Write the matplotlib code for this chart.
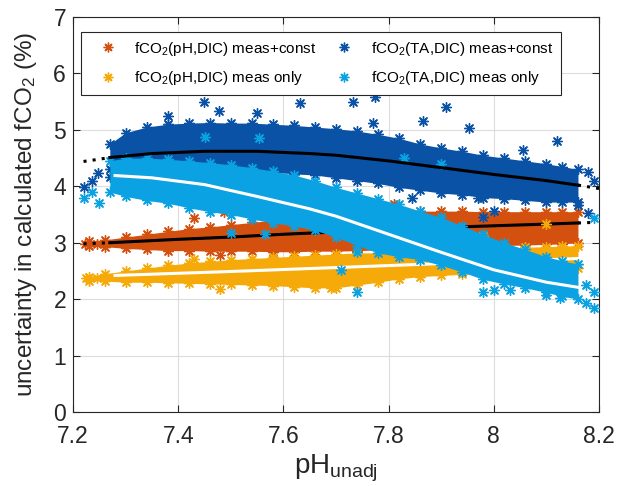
import matplotlib
matplotlib.use("Agg")
import matplotlib.pyplot as plt
from matplotlib.lines import Line2D

plt.rcParams['font.family'] = ['Liberation Sans', 'DejaVu Sans']
plt.rcParams['mathtext.fontset'] = 'custom'
plt.rcParams['mathtext.rm'] = 'Liberation Sans'
plt.rcParams['mathtext.it'] = 'Liberation Sans:italic'

# ---------------- data ----------------
labels = ['fCO$\\mathregular{_2}$(pH,DIC) meas+const',
          'fCO$\\mathregular{_2}$(pH,DIC) meas only',
          'fCO$\\mathregular{_2}$(TA,DIC) meas+const',
          'fCO$\\mathregular{_2}$(TA,DIC) meas only']

# band envelopes of the dense point clouds
x_ph = [7.23, 7.26, 7.30, 7.34, 7.38, 7.42, 7.46, 7.50, 7.54, 7.58, 7.62, 7.66, 7.70,
        7.74, 7.78, 7.82, 7.86, 7.90, 7.94, 7.98, 8.02, 8.06, 8.10, 8.13, 8.16]
orange_hi = [3.03, 3.05, 3.10, 3.15, 3.20, 3.25, 3.28, 3.32, 3.36, 3.40, 3.43, 3.46, 3.48,
             3.50, 3.52, 3.55, 3.56, 3.56, 3.56, 3.55, 3.55, 3.55, 3.55, 3.55, 3.55]
orange_lo = [2.95, 2.93, 2.90, 2.88, 2.86, 2.86, 2.85, 2.85, 2.85, 2.84, 2.84, 2.85, 2.85,
             2.86, 2.87, 2.88, 2.90, 2.92, 2.93, 2.94, 2.95, 2.96, 2.97, 2.98, 3.00]
yellow_hi = [2.40, 2.45, 2.50, 2.55, 2.60, 2.64, 2.67, 2.70, 2.72, 2.74, 2.76, 2.78, 2.80,
             2.82, 2.82, 2.83, 2.84, 2.85, 2.86, 2.88, 2.90, 2.92, 2.93, 2.94, 2.95]
yellow_lo = [2.33, 2.32, 2.30, 2.30, 2.29, 2.28, 2.27, 2.26, 2.25, 2.24, 2.22, 2.20, 2.20,
             2.25, 2.30, 2.36, 2.40, 2.42, 2.44, 2.46, 2.48, 2.50, 2.52, 2.53, 2.55]

x_ta = [7.27, 7.30, 7.34, 7.38, 7.42, 7.46, 7.50, 7.54, 7.58, 7.62, 7.66, 7.70, 7.74,
        7.78, 7.82, 7.86, 7.90, 7.94, 7.98, 8.02, 8.06, 8.10, 8.13, 8.16]
dblue_hi = [4.75, 4.95, 5.05, 5.10, 5.12, 5.13, 5.12, 5.12, 5.10, 5.08, 5.05, 5.02, 4.98,
            4.92, 4.85, 4.75, 4.68, 4.62, 4.55, 4.50, 4.45, 4.40, 4.35, 4.30]
dblue_lo = [4.30, 4.30, 4.30, 4.30, 4.30, 4.30, 4.30, 4.30, 4.25, 4.22, 4.20, 4.15, 4.10,
            4.05, 3.98, 3.93, 3.88, 3.85, 3.80, 3.78, 3.75, 3.72, 3.72, 3.72]
lblue_hi = [4.45, 4.50, 4.50, 4.48, 4.45, 4.42, 4.38, 4.33, 4.27, 4.20, 4.10, 3.98, 3.88,
            3.78, 3.68, 3.56, 3.45, 3.30, 3.15, 3.00, 2.88, 2.75, 2.68, 2.62]
lblue_lo = [3.90, 3.82, 3.75, 3.70, 3.62, 3.55, 3.50, 3.42, 3.35, 3.30, 3.22, 3.10, 2.95,
            2.82, 2.75, 2.70, 2.60, 2.48, 2.35, 2.27, 2.20, 2.12, 2.05, 2.00]

# isolated points
orange_out_x = [7.43, 7.487, 7.81, 7.83, 7.48, 7.222, 7.245]
orange_out_y = [3.43, 3.54, 3.68, 3.49, 2.78, 2.98, 2.98]
yellow_out_x = [7.43, 7.48, 8.10, 7.69, 7.225, 7.245, 7.98]
yellow_out_y = [2.72, 2.18, 3.33, 2.20, 2.38, 2.38, 3.12]
dblue_out_x = [7.449, 7.632, 7.477, 7.732, 7.775, 7.909, 7.866, 7.953, 8.121, 8.055, 7.77,
               7.845, 7.97, 8.00, 7.98, 7.22, 7.236, 7.247, 7.27, 8.18, 8.19, 8.16, 8.18,
               7.38, 7.55]
dblue_out_y = [5.50, 5.47, 5.34, 5.49, 5.59, 5.40, 5.15, 5.04, 4.80, 4.64, 5.13,
               3.79, 3.79, 3.57, 3.45, 3.98, 4.10, 4.23, 4.16, 4.25, 4.09, 3.66, 3.52,
               5.25, 5.30]
lblue_out_x = [7.553, 7.45, 7.50, 7.565, 7.83, 7.90, 7.74, 7.71, 7.74, 7.98, 8.00, 8.03,
               8.10, 8.125, 8.175, 8.19, 8.175, 8.19, 7.22, 7.236, 8.19, 7.25]
lblue_out_y = [4.85, 4.87, 3.17, 3.15, 4.50, 4.39, 2.83, 2.51, 2.12, 2.12, 2.16, 2.16,
               2.07, 2.02, 2.25, 2.12, 1.93, 1.84, 3.79, 3.90, 3.43, 3.70]

# fitted curves
orange_fit_x = [7.27, 7.40, 7.50, 7.60, 7.70, 7.80, 7.90, 8.00, 8.10, 8.16]
orange_fit_y = [3.00, 3.06, 3.10, 3.15, 3.19, 3.23, 3.27, 3.30, 3.33, 3.35]
orange_ext_l = ([7.22, 7.27], [2.98, 3.00])
orange_ext_r = ([8.16, 8.19], [3.35, 3.36])
yellow_fit_x = [7.28, 7.50, 7.70, 7.90, 8.00, 8.16]
yellow_fit_y = [2.42, 2.49, 2.56, 2.63, 2.66, 2.72]
dblue_fit_x = [7.27, 7.35, 7.45, 7.55, 7.65, 7.70, 7.80, 7.90, 8.00, 8.10, 8.16]
dblue_fit_y = [4.51, 4.58, 4.62, 4.62, 4.58, 4.55, 4.45, 4.33, 4.21, 4.10, 4.02]
dblue_ext_l = ([7.22, 7.25, 7.27], [4.44, 4.48, 4.51])
dblue_ext_r = ([8.16, 8.20], [4.02, 3.96])
lblue_fit_x = [7.28, 7.35, 7.45, 7.55, 7.65, 7.70, 7.80, 7.90, 8.00, 8.10, 8.16]
lblue_fit_y = [4.19, 4.15, 4.03, 3.82, 3.60, 3.47, 3.15, 2.83, 2.52, 2.30, 2.21]

x_ticks = [7.2, 7.4, 7.6, 7.8, 8.0, 8.2]
x_ticklabels = ['7.2', '7.4', '7.6', '7.8', '8', '8.2']
y_ticks = [0, 1, 2, 3, 4, 5, 6, 7]

c_orange = '#D4500F'
c_yellow = '#F6AA0A'
c_dblue = '#0A52A5'
c_lblue = '#0AA2E2'

# ---------------- figure ----------------
fig = plt.figure(figsize=(6.17, 4.86), dpi=100)
ax = fig.add_axes([73 / 617, 1 - 412 / 486, (599 - 73) / 617, (412 - 17) / 486])

mk = (8, 2, 0)
ms = 50


def cloud(x, lo, hi, ox, oy, color, z):
    ax.fill_between(x, lo, hi, color=color, lw=0, zorder=z)
    ax.scatter(x, hi, s=ms, marker=mk, color=color, lw=1.0, zorder=z)
    ax.scatter(x, lo, s=ms, marker=mk, color=color, lw=1.0, zorder=z)
    ax.scatter(ox, oy, s=ms, marker=mk, color=color, lw=1.0, zorder=z + 0.1)


cloud(x_ph, orange_lo, orange_hi, orange_out_x, orange_out_y, c_orange, 2)
ax.plot(orange_fit_x, orange_fit_y, color='black', lw=2.2, zorder=2.5)
ax.plot(*orange_ext_l, color='black', lw=2.2, ls=(0, (1, 2)), zorder=2.5)
ax.plot(*orange_ext_r, color='black', lw=2.2, ls=(0, (1, 2)), zorder=2.5)

cloud(x_ph, yellow_lo, yellow_hi, yellow_out_x, yellow_out_y, c_yellow, 3)
ax.plot(yellow_fit_x, yellow_fit_y, color='white', lw=2.2, zorder=3.5)

cloud(x_ta, dblue_lo, dblue_hi, dblue_out_x, dblue_out_y, c_dblue, 4)

cloud(x_ta, lblue_lo, lblue_hi, lblue_out_x, lblue_out_y, c_lblue, 5)
ax.plot(lblue_fit_x, lblue_fit_y, color='white', lw=2.2, zorder=5.5)

ax.plot(dblue_fit_x, dblue_fit_y, color='black', lw=2.2, zorder=5.6)
ax.plot(*dblue_ext_l, color='black', lw=2.2, ls=(0, (1, 2)), zorder=5.6)
ax.plot(*dblue_ext_r, color='black', lw=2.2, ls=(0, (1, 2)), zorder=5.6)

ax.set_xlim(7.2, 8.2)
ax.set_ylim(0, 7)
ax.set_xticks(x_ticks)
ax.set_xticklabels(x_ticklabels)
ax.set_yticks(y_ticks)
ax.tick_params(direction='in', top=True, right=True, labelsize=16.5, length=5,
               width=0.8, colors='#262626')
ax.tick_params(axis='x', pad=9)
ax.tick_params(axis='y', pad=5)
ax.grid(True, color='#dcdcdc', lw=0.8, zorder=0)
ax.set_axisbelow(True)
for s in ax.spines.values():
    s.set_color('#262626')
    s.set_linewidth(0.8)

ax.set_xlabel('pH$\\mathregular{_{unadj}}$', fontsize=20, color='#262626', labelpad=4)
ax.set_ylabel('uncertainty in calculated fCO$\\mathregular{_2}$ (%)', fontsize=17.5,
              color='#262626', labelpad=10)

handles = [Line2D([], [], ls='none', marker=mk, ms=7, mew=1.0, color=c)
           for c in [c_orange, c_yellow, c_dblue, c_lblue]]
leg = ax.legend(handles, labels, ncol=2, loc='upper left',
                bbox_to_anchor=(0.015, 0.962), fontsize=11, frameon=True,
                fancybox=False, framealpha=1, edgecolor='#262626',
                handlelength=2.5, handletextpad=0.47, columnspacing=0.58,
                borderpad=0.5, labelspacing=0.75, borderaxespad=0)
leg.get_frame().set_linewidth(0.8)
leg.set_zorder(10)

fig.savefig('out.png', dpi=100)
